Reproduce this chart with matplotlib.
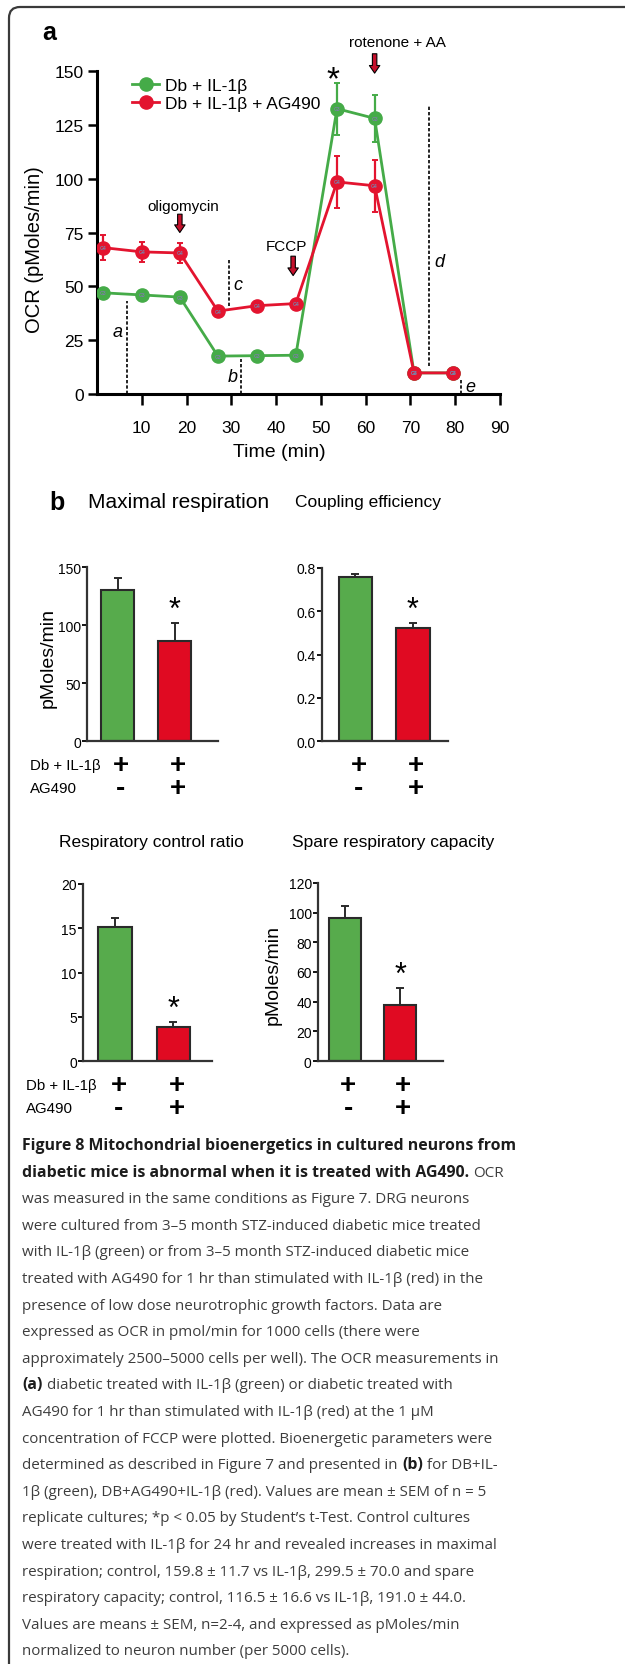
import numpy as np
import matplotlib
matplotlib.use("Agg")
import matplotlib.pyplot as plt
from matplotlib.patches import FancyBboxPatch
from matplotlib.transforms import IdentityTransform

W, H = 625, 1665

# ---- panel a : OCR time course ----
time_min = [1.3, 10.0, 18.5, 27.0, 35.7, 44.4, 53.6, 62.0, 70.8, 79.5]
ocr_db = [47, 46, 45, 17.6, 17.8, 18, 132.5, 128, 9.8, 9.8]
ocr_db_err = [1.5, 1.5, 1.5, 1, 1, 1, 12, 11, 1, 1]
ocr_ag = [68, 66, 65.5, 38.5, 41, 42, 98.5, 96.7, 9.8, 9.8]
ocr_ag_err = [6, 4.5, 4.5, 1.5, 1.5, 1.5, 12, 12, 1, 1]
series_names = ["Db + IL-1β", "Db + IL-1β + AG490"]
well_tags = ["G3", "G4"]

injections = ["oligomycin", "FCCP", "rotenone + AA"]
inj_time = [18.5, 43.8, 62.0]
inj_arrow_top = [83.5, 64.0, 158.0]
inj_arrow_tip = [75.0, 55.0, 149.0]
inj_text_x = [19.2, 42.2, 67.0]
inj_text_y = [87.5, 68.5, 163.5]

param_marks = ["a", "b", "c", "d", "e"]
mark_x = [6.7, 32.1, 29.5, 74.2, 81.4]
mark_lo = [0, 0, 41, 13, 0]
mark_hi = [43, 16.3, 62, 134, 7]
mark_lx = [4.6, 30.3, 31.4, 76.4, 83.4]
mark_ly = [29, 8, 51, 61.5, 3.5]

# ---- panel b : bioenergetic parameters ----
conditions = ["Db + IL-1β", "AG490"]
max_resp = [130.4, 86.5]
max_resp_err = [10.0, 15.2]
coupling = [0.757, 0.521]
coupling_err = [0.015, 0.025]
rcr = [15.1, 3.8]
rcr_err = [1.1, 0.6]
spare = [96.2, 38.0]
spare_err = [8.1, 11.2]
db_row = ["+", "+"]
ag_row = ["-", "+"]

GREEN_L = "#45ab48"
RED_L = "#e3142f"
GREEN_B = "#57ab4c"
RED_B = "#e00a22"
EDGE = "#2a2a2a"

plt.rcParams["font.family"] = ["Liberation Sans", "DejaVu Sans"]

fig = plt.figure(figsize=(W / 100, H / 100), dpi=100)


def px_axes(l, t, r, b):
    return fig.add_axes([l / W, 1 - b / H, (r - l) / W, (b - t) / H])


# frame with rounded top-left corner
fig.add_artist(FancyBboxPatch((9, -100), 800, H - 8 + 100,
                              boxstyle="round,pad=0,rounding_size=11",
                              transform=IdentityTransform(), fill=False,
                              lw=1.6, ec="#3a3a3a"))

# ================= panel a =================
ax = px_axes(97, 72, 500, 395)
for y, err, col, name, tag in [(ocr_db, ocr_db_err, GREEN_L, series_names[0], well_tags[0]),
                               (ocr_ag, ocr_ag_err, RED_L, series_names[1], well_tags[1])]:
    ax.errorbar(time_min, y, yerr=err, fmt="none", ecolor=col, elinewidth=1.6,
                capsize=2.5, capthick=1.4, zorder=3)
    ax.plot(time_min, y, "-o", color=col, lw=2.0, ms=9.5, mec=col, label=name, zorder=4)
    for xx, yy in zip(time_min, y):
        ax.text(xx, yy, tag, fontsize=3.6, color="#7c7fa6", ha="center", va="center",
                fontweight="bold", zorder=5)

for lab, x, lo, hi, lx, ly in zip(param_marks, mark_x, mark_lo, mark_hi, mark_lx, mark_ly):
    ax.plot([x, x], [lo, hi], color="black", lw=1.2, ls=(0, (2, 1.2)), zorder=2)
    ax.text(lx, ly, lab, fontsize=13, style="italic", ha="center", va="center")

for name, x, top, tip, tx, ty in zip(injections, inj_time, inj_arrow_top, inj_arrow_tip,
                                     inj_text_x, inj_text_y):
    ax.annotate("", xy=(x, tip), xytext=(x, top), annotation_clip=False,
                arrowprops=dict(arrowstyle="simple,head_width=0.75,head_length=0.55,tail_width=0.32",
                                fc="#c4102b", ec="black", lw=0.8, shrinkA=0, shrinkB=0))
    ax.text(tx, ty, name, fontsize=11, ha="center", va="center", clip_on=False)

ax.text(52.7, 146, "*", fontsize=24, ha="center", va="center", clip_on=False)

ax.set_xlim(0, 90)
ax.set_ylim(0, 150)
ax.set_xticks(np.arange(10, 91, 10))
ax.set_yticks(np.arange(0, 151, 25))
for s in ["top", "right"]:
    ax.spines[s].set_visible(False)
for s in ["left", "bottom"]:
    ax.spines[s].set_linewidth(2.2)
ax.tick_params(axis="x", length=8, width=1.8, pad=11, labelsize=12.5)
ax.tick_params(axis="y", length=6.5, width=1.8, pad=3, labelsize=12.5)
ax.set_xlabel("Time (min)", fontsize=14)
ax.set_ylabel("OCR (pMoles/min)", fontsize=14.5)
ax.xaxis.set_label_coords(0.452, -0.152)
ax.yaxis.set_label_coords(-0.132, 0.45)
ax.legend(loc="upper left", bbox_to_anchor=(0.088, 0.98), frameon=False, fontsize=12.5,
          handlelength=1.55, handletextpad=0.3, labelspacing=0.2, borderpad=0,
          borderaxespad=0)
fig.text(49 / W, 1 - 33 / H, "a", fontsize=18, fontweight="bold", ha="center", va="center")

# ================= panel b =================
fig.text(57 / W, 1 - 503 / H, "b", fontsize=18, fontweight="bold", ha="center", va="center")

bar_panels = [
    # title, values, errors, axes px (l, t, r, b), xlim, yticks, fmt, title px, title size, ylabel pos
    ("Maximal respiration", max_resp, max_resp_err, (87, 568, 218, 742), (-0.535, 1.76),
     np.arange(0, 151, 50), "{:.0f}", (88, 503), 15, (-0.229, 0.483)),
    ("Coupling efficiency", coupling, coupling_err, (322, 569, 448, 742), (-0.58, 1.61),
     np.arange(0, 0.81, 0.2), "{:.1f}", (295, 503), 12.5, None),
    ("Respiratory control ratio", rcr, rcr_err, (83, 885, 212, 1062), (-0.55, 1.66),
     np.arange(0, 21, 5), "{:.0f}", (59, 843), 12.5, None),
    ("Spare respiratory capacity", spare, spare_err, (318, 884, 443, 1062), (-0.49, 1.78),
     np.arange(0, 121, 20), "{:.0f}", (292, 843), 12.5, (-0.288, 0.49)),
]

for i, (title, vals, errs, box, xl, yt, fmt, tpos, tsize, ylab) in enumerate(bar_panels):
    bx = px_axes(*box)
    xs = np.arange(len(vals))
    bx.bar(xs, vals, width=0.58, color=[GREEN_B, RED_B], edgecolor=EDGE, lw=1.5, zorder=2)
    bx.errorbar(xs, vals, yerr=[np.zeros(len(errs)), errs], fmt="none", ecolor=EDGE,
                elinewidth=1.4, capsize=3, capthick=1.4, zorder=1)
    bx.annotate("*", xy=(xs[1], vals[1] + errs[1]), xytext=(0, 9.5),
                textcoords="offset points", ha="center", va="center", fontsize=22)
    bx.set_xlim(*xl)
    bx.set_ylim(yt[0], yt[-1])
    bx.set_yticks(yt)
    bx.set_yticklabels([fmt.format(v) for v in yt])
    bx.set_xticks([])
    for s in ["top", "right"]:
        bx.spines[s].set_visible(False)
    for s in ["left", "bottom"]:
        bx.spines[s].set_linewidth(1.6)
        bx.spines[s].set_color("#333333")
    bx.tick_params(axis="y", length=3.5, width=1.3, pad=1, labelsize=10)
    if ylab is not None:
        bx.set_ylabel("pMoles/min", fontsize=14)
        bx.yaxis.set_label_coords(*ylab)
    fig.text(tpos[0] / W, 1 - tpos[1] / H, title, fontsize=tsize, ha="left", va="center")

    # treatment rows under the bars
    for row, sign_row, dy in [(conditions[0], db_row, 17.5), (conditions[1], ag_row, 34)]:
        if i % 2 == 0:
            bx.annotate(row, xy=(0, 0), xycoords="axes fraction", xytext=(-41, -dy),
                        textcoords="offset points", ha="left", va="center", fontsize=10.8)
        for x, sgn in zip(xs, sign_row):
            bx.annotate(sgn, xy=(x + 0.06, 0), xycoords=("data", "axes fraction"),
                        xytext=(0, -dy), textcoords="offset points", ha="center",
                        va="center", fontsize=20, fontweight="bold")

# ================= caption =================
caption = [
    [("Figure 8 Mitochondrial bioenergetics in cultured neurons from", True)],
    [("diabetic mice is abnormal when it is treated with AG490.", True), ("OCR", False)],
    [("was measured in the same conditions as Figure 7. DRG neurons", False)],
    [("were cultured from 3–5 month STZ-induced diabetic mice treated", False)],
    [("with IL-1β (green) or from 3–5 month STZ-induced diabetic mice", False)],
    [("treated with AG490 for 1 hr than stimulated with IL-1β (red) in the", False)],
    [("presence of low dose neurotrophic growth factors. Data are", False)],
    [("expressed as OCR in pmol/min for 1000 cells (there were", False)],
    [("approximately 2500–5000 cells per well). The OCR measurements in", False)],
    [("(a)", True), ("diabetic treated with IL-1β (green) or diabetic treated with", False)],
    [("AG490 for 1 hr than stimulated with IL-1β (red) at the 1 μM", False)],
    [("concentration of FCCP were plotted. Bioenergetic parameters were", False)],
    [("determined as described in Figure 7 and presented in", False), ("(b)", True),
     ("for DB+IL-", False)],
    [("1β (green), DB+AG490+IL-1β (red). Values are mean ± SEM of n = 5", False)],
    [("replicate cultures; *p < 0.05 by Student’s t-Test. Control cultures", False)],
    [("were treated with IL-1β for 24 hr and revealed increases in maximal", False)],
    [("respiration; control, 159.8 ± 11.7 vs IL-1β, 299.5 ± 70.0 and spare", False)],
    [("respiratory capacity; control, 116.5 ± 16.6 vs IL-1β, 191.0 ± 44.0.", False)],
    [("Values are means ± SEM, n=2-4, and expressed as pMoles/min", False)],
    [("normalized to neuron number (per 5000 cells).", False)],
]

renderer = fig.canvas.get_renderer()
cap_font = ["Open Sans", "DejaVu Sans"]
gap = 4.4
for k, parts in enumerate(caption):
    base = 1150 + 26.6 * k
    x = 22.0
    for j, (s, bold) in enumerate(parts):
        if j > 0:
            x += gap
        t = fig.text(x / W, 1 - base / H, s, family=cap_font,
                     fontsize=11.4 if bold else 10.9,
                     fontweight="bold" if bold else "normal",
                     color="#1c1c1c" if bold else "#3d3d3d", ha="left", va="baseline")
        x += t.get_window_extent(renderer).width

fig.savefig("out.png", dpi=100)
